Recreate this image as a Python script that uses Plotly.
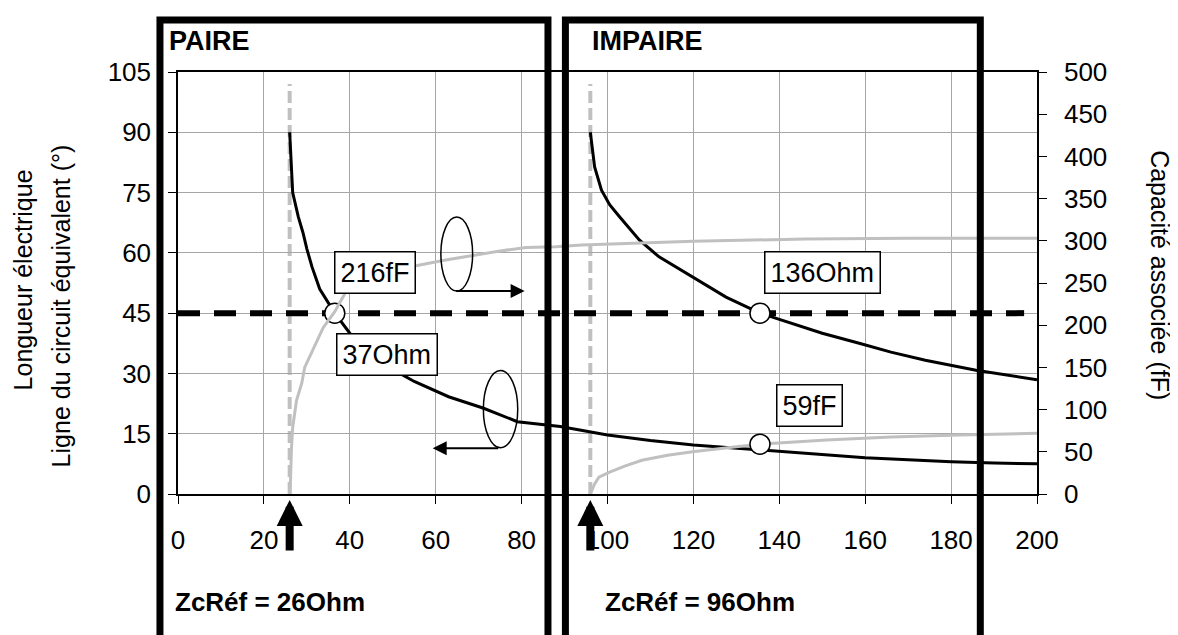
import plotly.graph_objects as go

# ---- data ----
# PAIRE: electrical length (deg) vs Zc (Ohm)
paire_len_x = [26, 26.3, 26.7, 28, 29.1, 30, 31.2, 33, 36.5, 40, 45, 50, 55, 63, 71, 79, 89,
               100, 110, 120, 135, 150, 160, 170, 180, 190, 200]
paire_len_y = [90, 82, 75, 69, 65, 61, 56.5, 51, 45, 40, 35, 31, 28, 24.2, 21.4, 18.0, 16.8,
               14.7, 13.3, 12.2, 11, 9.8, 9, 8.5, 8, 7.7, 7.5]
# PAIRE: associated capacitance (fF)
paire_cap_x = [26, 26.2, 26.4, 26.7, 27.6, 28.8, 29.5, 31.4, 33.8, 36.5, 40, 45, 50, 56, 62, 69,
               75, 81, 88, 94, 106, 120, 146, 170, 200]
paire_cap_y = [0, 17, 52, 79, 111, 131, 150, 170, 197, 216, 248, 258, 265, 271, 277, 283,
               288, 292, 293, 295, 297, 299.6, 302, 303, 303]
# IMPAIRE: electrical length (deg)
impaire_len_x = [96, 96.5, 97, 98.6, 100.5, 102.8, 107.4, 112, 119.8, 127.6, 135.5, 143, 150,
                 158.6, 166, 174, 185.8, 200]
impaire_len_y = [90, 85, 81.4, 75.6, 72, 69, 63.2, 59, 54, 49, 45, 42.5, 40, 37.5, 35.3, 33.3,
                 30.8, 28.4]
# IMPAIRE: associated capacitance (fF)
impaire_cap_x = [96, 97, 98, 100.5, 104, 108, 114, 119.8, 130, 135.5, 151, 166, 182, 200]
impaire_cap_y = [0, 12, 20, 26, 33, 40, 46, 50, 56, 59, 64, 67.6, 70, 72]

# operating points
pt_len_x = [36.5, 135.5]
pt_len_y = [45, 45]
pt_cap_x = [135.5]
pt_cap_y = [59]

zc_ref = [26, 96]
target_len = 45
target_x = [0, 197]

x_ticks = [0, 20, 40, 60, 80, 100, 120, 140, 160, 180, 200]
y_ticks = [0, 15, 30, 45, 60, 75, 90, 105]
y2_ticks = [0, 50, 100, 150, 200, 250, 300, 350, 400, 450, 500]

FONT = "Liberation Sans, Arial, sans-serif"
BLACK = "#000000"
GREY = "#c0c0c0"

fig = go.Figure()

fig.add_trace(go.Scatter(x=paire_cap_x, y=paire_cap_y, yaxis="y2", mode="lines",
                         line=dict(color=GREY, width=3), showlegend=False))
fig.add_trace(go.Scatter(x=impaire_cap_x, y=impaire_cap_y, yaxis="y2", mode="lines",
                         line=dict(color=GREY, width=3), showlegend=False))
fig.add_trace(go.Scatter(x=paire_len_x, y=paire_len_y, mode="lines",
                         line=dict(color=BLACK, width=3), showlegend=False))
fig.add_trace(go.Scatter(x=impaire_len_x, y=impaire_len_y, mode="lines",
                         line=dict(color=BLACK, width=3), showlegend=False))
# horizontal dashed reference at 45 deg
fig.add_trace(go.Scatter(x=target_x, y=[target_len] * len(target_x), mode="lines",
                         line=dict(color=BLACK, width=6, dash="22px,14px"), showlegend=False))
fig.add_trace(go.Scatter(x=pt_len_x, y=pt_len_y, mode="markers",
                         marker=dict(size=20, color="white", line=dict(color=BLACK, width=1.5)),
                         showlegend=False))
fig.add_trace(go.Scatter(x=pt_cap_x, y=pt_cap_y, yaxis="y2", mode="markers",
                         marker=dict(size=20, color="white", line=dict(color=BLACK, width=1.5)),
                         showlegend=False))

shapes = []
# grey dashed verticals at reference impedances
for z in zc_ref:
    shapes.append(dict(type="line", xref="x", yref="y", x0=z, x1=z, y0=0, y1=102,
                       line=dict(color=GREY, width=4, dash="12px,5px"), layer="below"))
# ellipses
shapes.append(dict(type="circle", xref="x", yref="y", x0=61.2, x1=68.6, y0=50.5, y1=68.9,
                   line=dict(color=BLACK, width=1.5)))
shapes.append(dict(type="circle", xref="x", yref="y", x0=71.1, x1=79.1, y0=11.5, y1=30.7,
                   line=dict(color=BLACK, width=1.5)))
# thick frames
shapes.append(dict(type="rect", xref="paper", yref="paper", x0=-0.021, x1=0.4307, y0=-0.4, y1=1.123,
                   line=dict(color=BLACK, width=7), layer="above"))
shapes.append(dict(type="rect", xref="paper", yref="paper", x0=0.451, x1=0.934, y0=-0.4, y1=1.123,
                   line=dict(color=BLACK, width=7), layer="above"))

ann = []
def label_box(text, x, y, yref="y"):
    ann.append(dict(text=text, x=x, y=y, xref="x", yref=yref, showarrow=False,
                    xanchor="center", yanchor="middle",
                    font=dict(family=FONT, size=27, color=BLACK),
                    bgcolor="white", bordercolor=BLACK, borderwidth=1.5, borderpad=5))

label_box("216fF", 45.8, 55.2)
label_box("37Ohm", 48.6, 34.6)
label_box("136Ohm", 150, 55)
label_box("59fF", 147, 22.1)

# small arrows next to ellipses
ann.append(dict(x=80.7, y=50.5, ax=64.4, ay=50.5, xref="x", yref="y", axref="x", ayref="y",
                text="", showarrow=True, arrowhead=2, arrowsize=1.4, arrowwidth=2, arrowcolor=BLACK))
ann.append(dict(x=59.3, y=11.4, ax=74.9, ay=11.4, xref="x", yref="y", axref="x", ayref="y",
                text="", showarrow=True, arrowhead=2, arrowsize=1.4, arrowwidth=2, arrowcolor=BLACK))
# thick up arrows under the x axis
for z in zc_ref:
    ann.append(dict(x=z, y=-0.014, xref="x", yref="paper", ax=0, ay=52, text="",
                    showarrow=True, arrowhead=2, arrowsize=0.65, arrowwidth=8, arrowcolor=BLACK))

# titles in frames
ann.append(dict(text="<b>PAIRE</b>", x=-0.0128, y=1.073, xref="paper", yref="paper",
                xanchor="left", yanchor="middle", showarrow=False,
                font=dict(family=FONT, size=27, color=BLACK)))
ann.append(dict(text="<b>IMPAIRE</b>", x=0.4796, y=1.073, xref="paper", yref="paper",
                xanchor="left", yanchor="middle", showarrow=False,
                font=dict(family=FONT, size=27, color=BLACK)))
ann.append(dict(text="<b>ZcRéf = 26Ohm</b>", x=-0.0058, y=-0.256, xref="paper", yref="paper",
                xanchor="left", yanchor="middle", showarrow=False,
                font=dict(family=FONT, size=26, color=BLACK)))
ann.append(dict(text="<b>ZcRéf = 96Ohm</b>", x=0.4948, y=-0.256, xref="paper", yref="paper",
                xanchor="left", yanchor="middle", showarrow=False,
                font=dict(family=FONT, size=26, color=BLACK)))
# axis titles
ann.append(dict(text="Longueur électrique", x=-0.180, y=0.507, xref="paper", yref="paper",
                xanchor="center", yanchor="middle",
                textangle=-90, showarrow=False, font=dict(family=FONT, size=25, color=BLACK)))
ann.append(dict(text="Ligne du circuit équivalent (°)", x=-0.136, y=0.445, xref="paper", yref="paper",
                xanchor="center", yanchor="middle",
                textangle=-90, showarrow=False, font=dict(family=FONT, size=25, color=BLACK)))
ann.append(dict(text="Capacité associée (fF)", x=1.143, y=0.519, xref="paper", yref="paper",
                xanchor="center", yanchor="middle",
                textangle=90, showarrow=False, font=dict(family=FONT, size=25, color=BLACK)))

# page body has an 8px default margin: shrink the figure so the plot area lands where intended
fig.update_layout(
    width=1170, height=627,
    margin=dict(l=170, r=141, t=64, b=141),
    paper_bgcolor="white", plot_bgcolor="white",
    font=dict(family=FONT, size=26, color=BLACK),
    xaxis=dict(range=[0, 200], tickvals=x_ticks, ticks="outside", ticklen=8, tickcolor=BLACK,
               showline=True, linecolor=BLACK, linewidth=1.5, mirror=True,
               showgrid=True, gridcolor="#a6a6a6", gridwidth=1, zeroline=False,
               ticklabelstandoff=14, tickfont=dict(size=26)),
    yaxis=dict(range=[0, 105], tickvals=y_ticks, ticks="outside", ticklen=8, tickcolor=BLACK,
               showline=True, linecolor=BLACK, linewidth=1.5,
               showgrid=True, gridcolor="#a6a6a6", gridwidth=1, zeroline=False,
               ticklabelstandoff=12, tickfont=dict(size=26)),
    yaxis2=dict(range=[0, 500], tickvals=y2_ticks, overlaying="y", side="right",
                ticks="outside", ticklen=8, tickcolor=BLACK,
                showline=True, linecolor=BLACK, linewidth=1.5, showgrid=False, zeroline=False,
                ticklabelstandoff=12, tickfont=dict(size=26)),
    shapes=shapes, annotations=ann,
)

fig.write_html("out.html")
